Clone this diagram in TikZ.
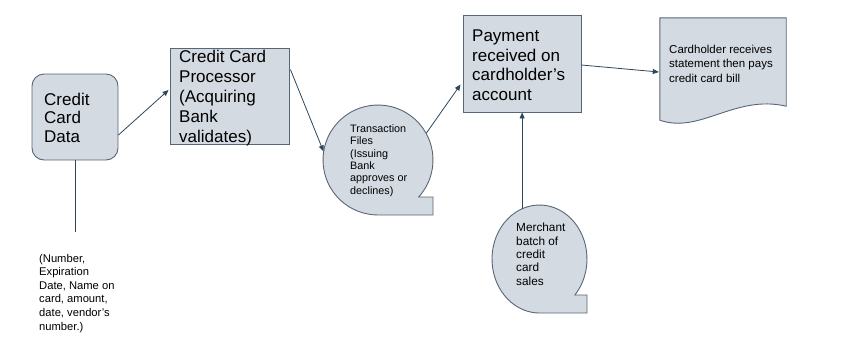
\documentclass[tikz,border=0pt]{standalone}
\usepackage{fontspec}
\setmainfont{Liberation Sans}
\usetikzlibrary{arrows.meta, calc, shapes.geometric}

\definecolor{shapefill}{RGB}{212,218,225}
\definecolor{shapeline}{RGB}{88,103,117}
\definecolor{linkcol}{RGB}{45,70,90}

\begin{document}
\begin{tikzpicture}[x=1pt, y=-1pt,
  shapebox/.style={draw=shapeline, fill=shapefill, line width=0.9pt, inner sep=0pt},
  link/.style={draw=linkcol, line width=0.8pt, -{Triangle[length=6pt, width=5pt]}},
  bigtext/.style={anchor=base west, align=left, inner sep=0pt, font=\fontsize{17}{19.5}\selectfont},
  smalltext/.style={anchor=base west, align=left, inner sep=0pt}]
  \useasboundingbox (0,0) rectangle (856,346);

  % Boxes
  \node[shapebox, rounded corners=12pt, minimum width=86pt, minimum height=86pt] (data) at (75,117) {};
  \node[shapebox, minimum width=119pt, minimum height=96pt] (proc) at (229.5,96) {};
  \node[shapebox, minimum width=118pt, minimum height=97pt] (pay) at (522,63.5) {};

  % Transaction bubble
  \node[circle, inner sep=0pt, minimum size=110pt] (trans) at (378,160) {};
  \draw[shapebox] ($(trans.center)+(42.3:55)$) arc[start angle=42.3, end angle=-270, radius=55]
    -- ($(trans.center)+(55,55)$) -- ($(trans.center)+(55,37)$) -- cycle;

  % Merchant bubble
  \node[ellipse, inner sep=0pt, minimum width=95pt, minimum height=108pt] (merch) at (539.5,259) {};
  \draw[shapebox] ($(merch.center)+(35.4,36)$) arc[start angle=41.8, end angle=-270, x radius=47.5, y radius=54]
    -- ($(merch.center)+(47.5,54)$) -- ($(merch.center)+(47.5,36)$) -- cycle;

  % Statement document
  \node[minimum width=126pt, minimum height=88pt, inner sep=0pt] (doc) at (723,62) {};
  \draw[shapebox] (doc.north west) -- (doc.north east) -- (doc.south east)
    .. controls ($(doc.south)+(12,-12)$) and ($(doc.south)+(-23,28)$) .. ($(doc.south west)+(0,14)$) -- cycle;

  % Connectors
  \coordinate (infotop) at (75,232);
  \draw[draw=linkcol, line width=0.8pt] (data.south) -- (infotop);
  \draw[link] ($(data.east)+(0,18)$) -- ($(proc.west)+(-1,-6)$);
  \draw[link] ($(proc.north east)+(1,22)$) -- (trans.171);
  \draw[link] (trans.29) -- ($(pay.west)+(-2,21)$);
  \draw[link] (merch.109) -- (merch.109 |- pay.south);
  \draw[link] ($(pay.east)+(0,1.5)$) -- ($(doc.west)+(-1,10)$);

  % Texts (placed at the baseline of their last line)
  \node[bigtext, font=\fontsize{17}{18.5}\selectfont] (datatext) at (44,142) {Credit\\Card\\Data};
  \node[bigtext, font=\fontsize{17}{20}\selectfont] (proctext) at (179,142) {Credit Card\\Processor\\(Acquiring\\Bank\\validates)};
  \node[bigtext] (paytext) at (472,100) {Payment\\received on\\cardholder’s\\account};
  \node[smalltext, font=\fontsize{10.8}{12.3}\selectfont] (transtext) at (350,194)
    {Transaction\\Files\\(Issuing\\Bank\\approves or\\declines)};
  \node[smalltext, font=\fontsize{11.8}{13.3}\selectfont] (merchtext) at (516,285)
    {Merchant\\batch of\\credit\\card\\sales};
  \node[smalltext, font=\fontsize{11.5}{14.5}\selectfont] (doctext) at (669,82)
    {Cardholder receives\\statement then pays\\credit card bill};
  \node[smalltext, font=\fontsize{11.2}{13.6}\selectfont] (info) at (39,330)
    {(Number,\\Expiration\\Date, Name on\\card, amount,\\date, vendor’s\\number.)};
\end{tikzpicture}
\end{document}
